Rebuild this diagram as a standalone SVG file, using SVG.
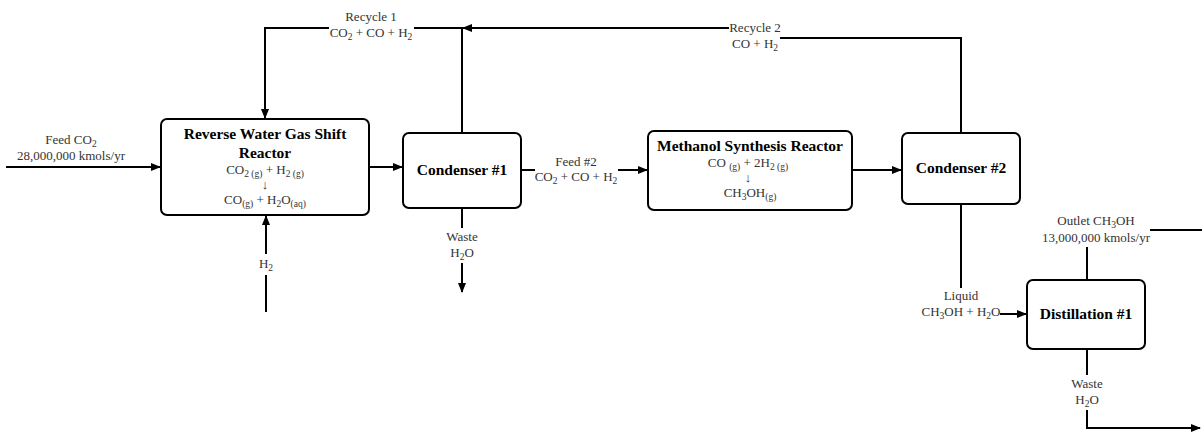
<svg xmlns="http://www.w3.org/2000/svg" width="1202" height="434" viewBox="0 0 1202 434">
<style>
.box{fill:#fff;stroke:#000;stroke-width:2}
.ln{fill:none;stroke:#000;stroke-width:2}
.t{font-family:"Liberation Serif",serif;font-weight:bold;font-size:15.5px;fill:#000;text-anchor:middle}
.l{font-family:"Liberation Serif",serif;font-size:13px;fill:#333;text-anchor:middle}
.s{font-size:9.5px}
</style>
<defs>
<marker id="ar" viewBox="0 0 10 10" refX="9" refY="5" markerWidth="10" markerHeight="10" markerUnits="userSpaceOnUse" orient="auto">
<path d="M0,1 L10,5 L0,9 z" fill="#000"/>
</marker>
</defs>
<rect width="1202" height="434" fill="#fff"/>
<g id="connectors">
<line class="ln" x1="6" y1="167" x2="160" y2="167" marker-end="url(#ar)"/>
<line class="ln" x1="369" y1="167" x2="402" y2="167" marker-end="url(#ar)"/>
<polyline class="ln" points="462,133 462,28 414,28"/>
<polyline class="ln" points="329,28 265,28 265,118" marker-end="url(#ar)"/>
<polyline class="ln" points="961,133 961,38 780,38"/>
<line class="ln" x1="729" y1="28" x2="463" y2="28" marker-end="url(#ar)"/>
<line class="ln" x1="521" y1="170" x2="535" y2="170"/>
<line class="ln" x1="618" y1="170" x2="647" y2="170" marker-end="url(#ar)"/>
<line class="ln" x1="852" y1="170" x2="901" y2="170" marker-end="url(#ar)"/>
<line class="ln" x1="462" y1="208" x2="462" y2="228"/>
<line class="ln" x1="462" y1="263" x2="462" y2="292" marker-end="url(#ar)"/>
<line class="ln" x1="266" y1="312" x2="266" y2="275"/>
<line class="ln" x1="266" y1="254" x2="266" y2="216" marker-end="url(#ar)"/>
<line class="ln" x1="961" y1="204" x2="961" y2="288"/>
<line class="ln" x1="1000" y1="314" x2="1026" y2="314" marker-end="url(#ar)"/>
<line class="ln" x1="1087" y1="280" x2="1087" y2="247"/>
<line class="ln" x1="1150" y1="230" x2="1202" y2="230"/>
<line class="ln" x1="1087" y1="349" x2="1087" y2="375"/>
<polyline class="ln" points="1087,410 1087,428 1200,428" marker-end="url(#ar)"/>
<text class="l" x="71" y="144">Feed CO<tspan class="s" dy="3">2</tspan></text>
<text class="l" x="71" y="160">28,000,000 kmols/yr</text>
<text class="l" x="371" y="21">Recycle 1</text>
<text class="l" x="371" y="37">CO<tspan class="s" dy="3">2</tspan><tspan dy="-3"> + CO + H</tspan><tspan class="s" dy="3">2</tspan></text>
<text class="l" x="755" y="32">Recycle 2</text>
<text class="l" x="755" y="48">CO + H<tspan class="s" dy="3">2</tspan></text>
<text class="l" x="576" y="166">Feed #2</text>
<text class="l" x="576" y="181">CO<tspan class="s" dy="3">2</tspan><tspan dy="-3"> + CO + H</tspan><tspan class="s" dy="3">2</tspan></text>
<text class="l" x="462" y="241">Waste</text>
<text class="l" x="462" y="257">H<tspan class="s" dy="3">2</tspan><tspan dy="-3">O</tspan></text>
<text class="l" x="266" y="268">H<tspan class="s" dy="3">2</tspan></text>
<text class="l" x="961" y="300">Liquid</text>
<text class="l" x="961" y="316">CH<tspan class="s" dy="3">3</tspan><tspan dy="-3">OH + H</tspan><tspan class="s" dy="3">2</tspan><tspan dy="-3">O</tspan></text>
<text class="l" x="1096" y="225">Outlet CH<tspan class="s" dy="3">3</tspan><tspan dy="-3">OH</tspan></text>
<text class="l" x="1096" y="242">13,000,000 kmols/yr</text>
<text class="l" x="1087" y="388">Waste</text>
<text class="l" x="1087" y="404">H<tspan class="s" dy="3">2</tspan><tspan dy="-3">O</tspan></text>
</g>
<g id="rwgs">
<rect class="box" x="161" y="119" width="208" height="96" rx="6"/>
<text class="t" x="265" y="139">Reverse Water Gas Shift</text>
<text class="t" x="265" y="158">Reactor</text>
<text class="l" x="265" y="174">CO<tspan class="s" dy="3">2 (g)</tspan><tspan dy="-3"> + H</tspan><tspan class="s" dy="3">2  (g)</tspan></text>
<text class="l" x="265" y="189">↓</text>
<text class="l" x="265" y="204">CO<tspan class="s" dy="3">(g)</tspan><tspan dy="-3"> +  H</tspan><tspan class="s" dy="3">2</tspan><tspan dy="-3">O</tspan><tspan class="s" dy="3">(aq)</tspan></text>
</g>
<g id="condenser1">
<rect class="box" x="403" y="133" width="118" height="75" rx="6"/>
<text class="t" x="462" y="175">Condenser #1</text>
</g>
<g id="methanol">
<rect class="box" x="648" y="131" width="204" height="79" rx="6"/>
<text class="t" x="750" y="151">Methanol Synthesis Reactor</text>
<text class="l" x="748" y="167">CO <tspan class="s" dy="3">(g)</tspan><tspan dy="-3"> + 2H</tspan><tspan class="s" dy="3">2  (g)</tspan></text>
<text class="l" x="748" y="182">↓</text>
<text class="l" x="750" y="197">CH<tspan class="s" dy="3">3</tspan><tspan dy="-3">OH</tspan><tspan class="s" dy="3">(g)</tspan></text>
</g>
<g id="condenser2">
<rect class="box" x="902" y="133" width="118" height="71" rx="6"/>
<text class="t" x="961" y="173">Condenser #2</text>
</g>
<g id="distillation1">
<rect class="box" x="1027" y="280" width="118" height="69" rx="6"/>
<text class="t" x="1086" y="319">Distillation #1</text>
</g>
</svg>
